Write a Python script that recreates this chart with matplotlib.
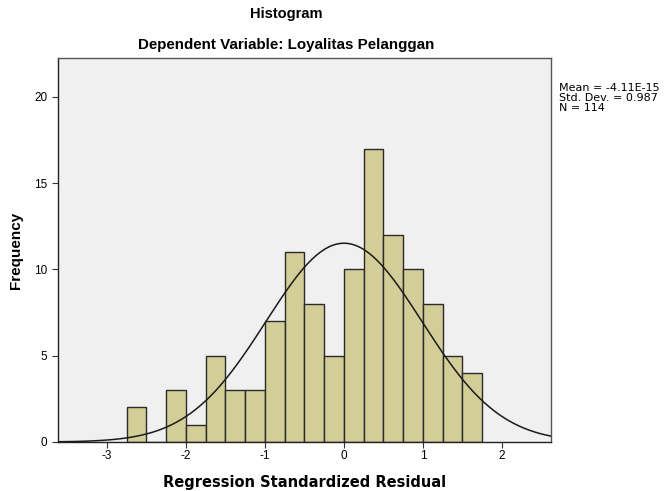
import numpy as np
import matplotlib
matplotlib.use('Agg')
import matplotlib.pyplot as plt

# data
bin_edges = [-2.75, -2.5, -2.25, -2.0, -1.75, -1.5, -1.25, -1.0, -0.75, -0.5,
             -0.25, 0.0, 0.25, 0.5, 0.75, 1.0, 1.25, 1.5, 1.75]
counts = [2, 0, 3, 1, 5, 3, 3, 7, 11, 8, 5, 10, 17, 12, 10, 8, 5, 4]
mean = -4.11e-15
std = 0.987
n = 114

plt.rcParams['font.family'] = ['Liberation Sans', 'DejaVu Sans']
plt.rcParams['axes.unicode_minus'] = False

fig = plt.figure(figsize=(6.64, 4.91), dpi=100)
ax = fig.add_axes([0.0873, 0.0998, 0.7425, 0.7823])
ax.set_facecolor('#f0f0f0')

lefts = np.array(bin_edges[:-1])
widths = np.diff(bin_edges)
ax.bar(lefts, counts, width=widths, align='edge', color='#d3ce97',
       edgecolor='#2a2a2a', linewidth=1.0, zorder=2)

# normal curve
xs = np.linspace(-3.62, 2.62, 400)
bw = 0.25
ys = n * bw / (std * np.sqrt(2 * np.pi)) * np.exp(-0.5 * ((xs - mean) / std) ** 2)
ax.plot(xs, ys, color='#1a1a1a', linewidth=1.1, zorder=3)

ax.set_xlim(-3.62, 2.62)
ax.set_ylim(0, 22.26)
ax.set_xticks([-3, -2, -1, 0, 1, 2])
ax.set_yticks([0, 5, 10, 15, 20])
ax.tick_params(axis='both', labelsize=8.5, length=4, color='#333333', direction='out')
ax.tick_params(axis='x', pad=2)

for s in ax.spines.values():
    s.set_color('#555555')
    s.set_linewidth(1.0)
ax.spines['bottom'].set_color('#222222')
ax.spines['left'].set_color('#222222')

ax.set_xlabel('Regression Standardized Residual', fontsize=10.5, fontweight='bold',
              family='DejaVu Sans', labelpad=9)
ax.set_ylabel('Frequency', fontsize=11, fontweight='bold', labelpad=8)

fig.text(286 / 664, 1 - 14 / 491, 'Histogram', ha='center', va='center',
         fontsize=10.5, fontweight='bold')
fig.text(286 / 664, 1 - 45 / 491, 'Dependent Variable: Loyalitas Pelanggan',
         ha='center', va='center', fontsize=10.9, fontweight='bold')

fig.text(559 / 664, 1 - 83 / 491,
         'Mean = -4.11E-15\nStd. Dev. = 0.987\nN = 114',
         ha='left', va='top', fontsize=8, family='DejaVu Sans', linespacing=1.0)

fig.savefig('out.png', dpi=100)
